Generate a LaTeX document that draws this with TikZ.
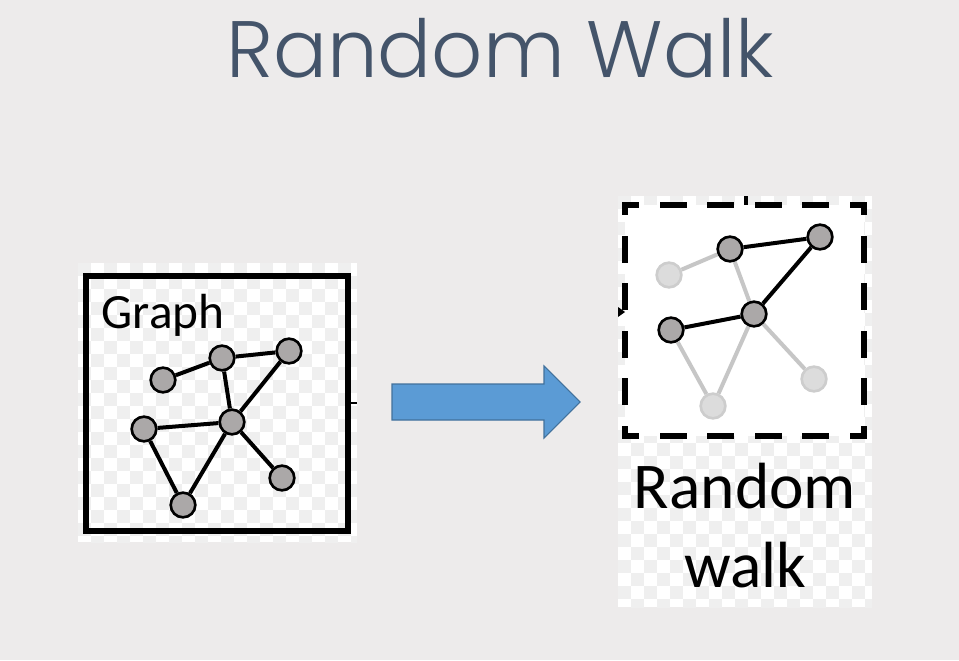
\documentclass[tikz,border=0pt]{standalone}
\usepackage{fontspec}
\setmainfont{Carlito}
\newfontfamily\titlefont{Poppins}[UprightFont=* Light]
\usetikzlibrary{positioning}
\definecolor{slidebg}{HTML}{EDEBEB}
\definecolor{titleblue}{HTML}{44546A}
\definecolor{nodegray}{HTML}{ABA8A8}
\definecolor{fadeline}{HTML}{C6C6C6}
\definecolor{fadeborder}{HTML}{CDCDCD}
\definecolor{fadefill}{HTML}{DCDCDC}
\definecolor{checker}{HTML}{EFEFEF}
\definecolor{arrowblue}{HTML}{5B9BD5}
\definecolor{arrowedge}{HTML}{41719C}

\begin{document}
\begin{tikzpicture}[x=0.75pt,y=-0.75pt,
    vertex/.style={circle,draw=black,line width=2pt,fill=nodegray,
                   minimum size=18.5pt,inner sep=0pt},
    faded/.style={vertex,draw=fadeborder,fill=fadefill},
    edge/.style={line width=3pt,black},
    fadeedge/.style={line width=3pt,fadeline},
    walkframe/.style={line width=4.5pt,line cap=rect,
                      dash pattern=on 15.75pt off 19.875pt}]

        % slide background
        \fill[slidebg] (0,0) rectangle (959,660);
        \useasboundingbox (0,0) rectangle (959,660);

        \node[anchor=base,text=titleblue,font=\titlefont\fontsize{60}{60}\selectfont]
             (title) at (500,78) {Random Walk};

        % left picture: checker background and frame
        \begin{scope}
        \clip (78,263) rectangle (357,542);
        \fill[white] (78,263) rectangle (357,542);
        \foreach \x in {78,104,...,360}
          \foreach \y in {263,289,...,545} {
            \fill[checker] (\x,\y) rectangle +(13,13);
            \fill[checker] (\x+13,\y+13) rectangle +(13,13);
          }
        \end{scope}
        \draw[line width=3.8pt] (86,276) rectangle (348,531);
        \draw[line width=2.2pt] (349,403) -- (357,403);

        \node[anchor=base west,font=\fontsize{37}{37}\selectfont] (graph) at (97,328) {Graph};

        \node[vertex] (a) at (163,380) {};
        \node[vertex] (b) at (222,358) {};
        \node[vertex] (c) at (289,351) {};
        \node[vertex] (d) at (232,422) {};
        \node[vertex] (e) at (144,429) {};
        \node[vertex] (f) at (183,505) {};
        \node[vertex] (g) at (282,478) {};

        \draw[edge] (a) -- (b) -- (c) -- (d) -- (b);
        \draw[edge] (e) -- (d) -- (f) -- (e);
        \draw[edge] (d) -- (g);

        % arrow
        \draw[arrowedge,fill=arrowblue,line width=0.8pt,line join=miter]
             (392,384) -- (544,384) -- (544,366) -- (580,402) -- (544,438)
             -- (544,420) -- (392,420) -- cycle;

        % right picture: checker background and dashed frame
        \begin{scope}
        \clip (618,196) rectangle (872,607);
        \fill[white] (618,196) rectangle (872,607);
        \foreach \x in {618,644,...,875}
          \foreach \y in {196,222,...,610} {
            \fill[checker] (\x,\y) rectangle +(13,13);
            \fill[checker] (\x+13,\y+13) rectangle +(13,13);
          }
        \end{scope}
        \fill[white] (625,205) rectangle (864,436);
        \draw[walkframe,dash phase=7.31pt]  (625,205) -- (864,205);
        \draw[walkframe,dash phase=7.31pt]  (625,436) -- (864,436);
        \draw[walkframe,dash phase=10.31pt] (625,205) -- (625,436);
        \draw[walkframe,dash phase=10.31pt] (864,205) -- (864,436);
        \draw[line width=3pt] (746,196) -- (746,205);
        \fill (618,307) -- (625,312) -- (618,317) -- cycle;

        \node[faded] (a') at (669,275) {};
        \node[vertex] (b') at (730,249) {};
        \node[vertex] (c') at (820,237) {};
        \node[vertex] (d') at (754,314) {};
        \node[vertex] (e') at (671,330) {};
        \node[faded] (f') at (713,406) {};
        \node[faded] (g') at (814,379) {};

        \draw[fadeedge] (a') -- (b') -- (d');
        \draw[fadeedge] (e') -- (f') -- (d') -- (g');
        \draw[edge] (b') -- (c') -- (d') -- (e');

        \node[anchor=base,font=\fontsize{49}{49}\selectfont] (rw) at (745,508) {Random};
        \node[anchor=base,font=\fontsize{49}{49}\selectfont] (walk) at (745,587) {walk};

\end{tikzpicture}
\end{document}
